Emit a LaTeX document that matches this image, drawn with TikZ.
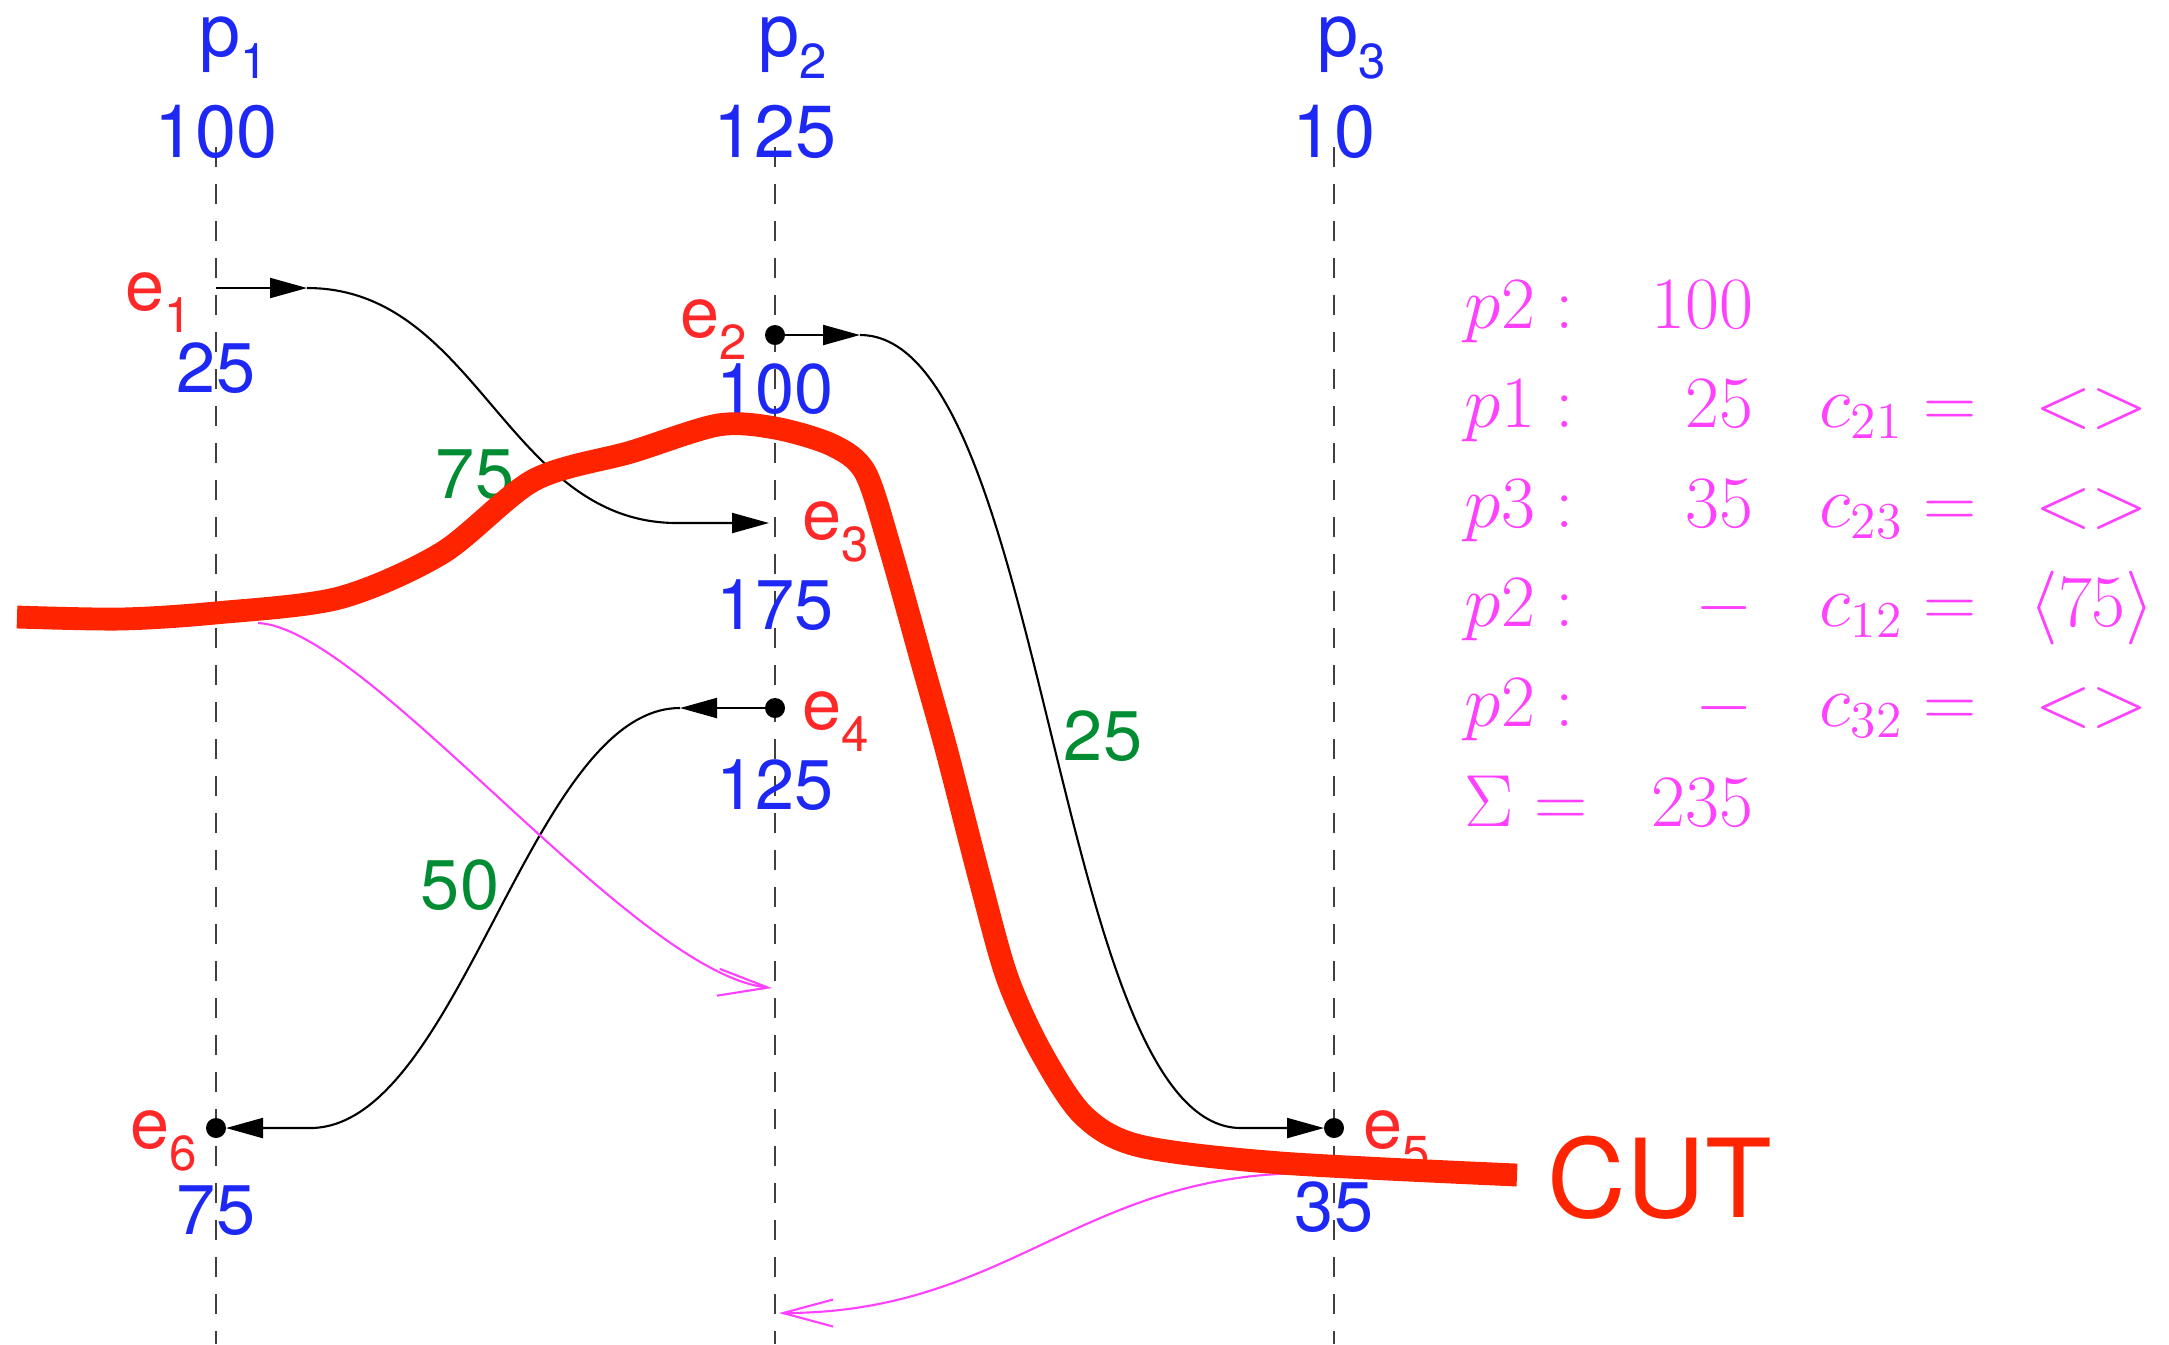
\RequirePackage{fix-cm}
\documentclass[tikz,border=0pt]{standalone}
\usepackage{fontspec}
\newfontfamily\helv{TeX Gyre Heros}
\usetikzlibrary{arrows.meta}

\definecolor{procblue}{RGB}{30,40,245}
\definecolor{evred}{RGB}{255,40,40}
\definecolor{cutred}{RGB}{255,36,0}
\definecolor{msggreen}{RGB}{0,140,50}
\definecolor{snapmag}{RGB}{255,64,255}

\newcommand{\lowsub}[1]{\raisebox{-6.5pt}{\fontsize{14}{14}\selectfont #1}}

\begin{document}
\begin{tikzpicture}[
  lifeline/.style={black!75, line width=0.7pt, dash pattern=on 0.2cm off 0.17cm},
  msg/.style={black, line width=0.6pt, -{Triangle[length=0.37cm, width=0.2cm]}},
  snap/.style={snapmag, line width=0.6pt, -{Straight Barb[length=0.5cm, width=0.27cm]}},
  plabel/.style={font=\helv\fontsize{21}{24}\selectfont, text=procblue, inner sep=0pt},
  amount/.style={font=\helv\fontsize{20}{24}\selectfont, text=procblue, inner sep=0pt, anchor=base},
  evlab/.style={font=\helv\fontsize{20}{24}\selectfont, text=evred, inner sep=0pt},
  chanval/.style={font=\helv\fontsize{20}{24}\selectfont, text=msggreen, inner sep=0pt, anchor=base},
  tally/.style={font=\fontsize{21}{24}\selectfont, text=snapmag, inner sep=0pt}
]
\useasboundingbox (0,0) rectangle (21.69,-13.44);

%% Process lines with names and initial amounts
\foreach \name/\x/\n/\init in {p1/2.16/1/100, p2/7.75/2/125, p3/13.34/3/10} {
  \coordinate (\name top) at (\x,-1.47);
  \coordinate (\name bot) at (\x,-13.44);
  \draw[lifeline] (\name top) -- (\name bot);
  \node[plabel, anchor=base west] (\name name) at (\x-0.17,-0.56) {p\lowsub{\n}};
  \node[plabel, anchor=base] (\name init) at (\x,-1.57) {\init};
}

%% Events
\foreach \ev/\x/\y in {e1/2.16/-2.88, e2/7.75/-3.35, e3/7.75/-5.23,
                       e4/7.75/-7.08, e5/13.34/-11.28, e6/2.16/-11.28}
  \coordinate (\ev) at (\x,\y);
\foreach \ev in {e2,e4,e5,e6}
  \fill[black] (\ev) circle (0.1);

%% Event labels
\node[evlab, anchor=base east] (e1lab) at (1.93,-3.10) {e\lowsub{1}};
\node[evlab, anchor=base east] (e2lab) at (7.48,-3.37) {e\lowsub{2}};
\node[evlab, anchor=base west] (e3lab) at (8.02,-5.39) {e\lowsub{3}};
\node[evlab, anchor=base west] (e4lab) at (8.02,-7.29) {e\lowsub{4}};
\node[evlab, anchor=base west] (e5lab) at (13.63,-11.48) {e\lowsub{5}};
\node[evlab, anchor=base east] (e6lab) at (1.98,-11.48) {e\lowsub{6}};

%% Amounts after each event
\node[amount] (e1amt) at (2.16,-3.92) {25};
\node[amount] (e2amt) at (7.75,-4.13) {100};
\node[amount] (e3amt) at (7.75,-6.29) {175};
\node[amount] (e4amt) at (7.75,-8.09) {125};
\node[amount] (e5amt) at (13.34,-12.31) {35};
\node[amount] (e6amt) at (2.16,-12.34) {75};

%% Messages
\draw[msg] (e1) -- ++(0.91,0) coordinate (e1out);
\draw[msg, shorten >=0.06cm] (e1out) .. controls +(1.7,0) and +(-1.7,0) .. ([xshift=-0.98cm]e3) -- (e3);
\draw[msg] (e2) -- ++(0.85,0) coordinate (e2out);
\draw[msg, shorten >=0.1cm] (e2out) .. controls +(1.87,0) and +(-1.87,0) .. ([xshift=-0.93cm]e5) -- (e5);
\draw[msg] (e4) -- ++(-0.95,0) coordinate (e4out);
\draw[msg, shorten >=0.1cm] (e4out) .. controls +(-1.5,0) and +(1.5,0) .. ([xshift=0.94cm]e6) -- (e6);

%% Message amounts
\node[chanval] (m13) at (4.75,-4.98) {75};
\node[chanval] (m46) at (4.60,-9.09) {50};
\node[chanval] (m25) at (11.03,-7.60) {25};

%% Marker messages
\coordinate (s1) at (2.58,-6.23);
\coordinate (s1end) at (7.72,-9.88);
\draw[snap] (s1) .. controls +(1.1,-0.05) and +(-1.4,0.15) .. (s1end);
\coordinate (s2) at (13.10,-11.73);
\coordinate (s2end) at (7.79,-13.13);
\draw[snap] (s2) .. controls +(-2.3,0) and +(2.3,0) .. (s2end);

%% The cut
\draw[cutred, line width=6.5pt] plot[smooth, tension=0.5] coordinates {
  (0.17,-6.17) (1.21,-6.19) (2.15,-6.13) (3.39,-5.98) (4.42,-5.53)
  (5.34,-4.80) (6.31,-4.52) (7.18,-4.25) (7.75,-4.28) (8.32,-4.45)
  (8.65,-4.72) (8.90,-5.48) (9.23,-6.66) (9.47,-7.52) (9.80,-8.80)
  (10.07,-9.77) (10.40,-10.50) (10.83,-11.15) (11.40,-11.46)
  (12.81,-11.63) (15.17,-11.75)};
\node[font=\helv\fontsize{31}{36}\selectfont, text=cutred, anchor=base west, inner sep=0pt]
  (cutlab) at (15.47,-12.17) {CUT};

%% Recorded state
\foreach \who/\amt [count=\i] in {p2/100, p1/25, p3/35, p2/-, p2/-} {
  \node[tally, anchor=base west] (who\i) at (14.64,{-3.28-0.996*(\i-1)}) {$\who:$};
  \node[tally, anchor=base east] (amt\i) at (17.54,{-3.28-0.996*(\i-1)}) {$\amt$};
}
\foreach \ch/\st [count=\i from 2] in {21/{<>}, 23/{<>}, 12/{\langle 75\rangle}, 32/{<>}} {
  \node[tally, anchor=base west] (ch\i) at (18.19,{-3.28-0.996*(\i-1)}) {$c_{\ch} =$};
  \node[tally, anchor=base] (st\i) at (20.92,{-3.28-0.996*(\i-1)}) {$\st$};
}
\node[tally, anchor=base west] (sumlab) at (14.64,-8.26) {$\Sigma =$};
\node[tally, anchor=base east] (sumval) at (17.54,-8.26) {$235$};

\end{tikzpicture}
\end{document}
